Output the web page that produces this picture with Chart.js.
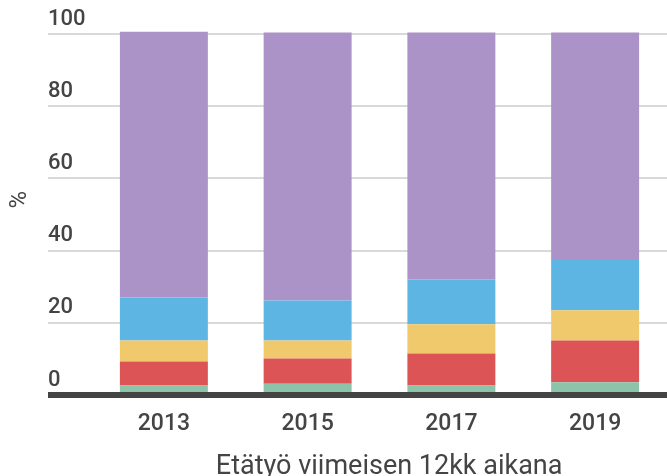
<!DOCTYPE html>
<html>
<head>
<meta charset="utf-8">
<script src="https://cdn.jsdelivr.net/npm/chart.js@4"></script>
<style>
  html, body { margin: 0; padding: 0; background: #fff; }
  #wrap { width: 667px; height: 476px; }
</style>
</head>
<body>
<div id="wrap"><canvas id="chart" width="667" height="476"></canvas></div>
<script>
// ---- data ----
const years = ['2013', '2015', '2017', '2019'];
const seriesNames = ['Päivittäin', 'Viikoittain', 'Kuukausittain', 'Harvemmin', 'Ei lainkaan'];
const greenVals  = [2.6, 3.1, 2.6, 3.5];
const redVals    = [6.7, 7.0, 8.9, 11.6];
const yellowVals = [5.8, 5.0, 8.1, 8.4];
const blueVals   = [11.9, 11.1, 12.4, 13.9];
const purpleVals = [73.6, 74.2, 68.4, 63.0];
const yTicks = [0, 20, 40, 60, 80, 100];

const colors = ['#8dc3a8', '#dc5456', '#efc96b', '#5db5e3', '#ab92c7'];
const TXT = '#444444';

const ds = [greenVals, redVals, yellowVals, blueVals, purpleVals].map((vals, i) => ({
    label: seriesNames[i],
    data: vals,
    backgroundColor: colors[i],
    borderWidth: 0,
    clip: false,
    categoryPercentage: 0.612,
    barPercentage: 1
}));

const chart = new Chart(document.getElementById('chart').getContext('2d'), {
    type: 'bar',
    data: { labels: years, datasets: ds },
    options: {
        responsive: false,
        animation: false,
        layout: { padding: { top: 34, right: 0, bottom: 0, left: 0 } },
        plugins: { legend: { display: false }, tooltip: { enabled: false } },
        scales: {
            x: {
                stacked: true,
                z: 1,
                grid: { display: false, drawTicks: false },
                border: { display: true, width: 6, color: TXT },
                ticks: { color: TXT, padding: 15, font: { family: 'Roboto', size: 23, weight: 500 } },
                title: {
                    display: true, text: '\u2002\u2009Etätyö viimeisen 12kk aikana', color: TXT,
                    font: { family: 'Roboto', size: 27, weight: 400, lineHeight: 0.68 },
                    padding: { top: 0, bottom: 0 }
                },
                afterFit: s => { s.height = 81; }
            },
            y: {
                stacked: true,
                min: 0, max: 100,
                weight: 0,
                border: { display: false },
                grid: {
                    drawTicks: true, tickLength: 44,
                    color: c => (c.tick && c.tick.value === 0) ? TXT : '#d9d9d9',
                    lineWidth: c => (c.tick && c.tick.value === 0) ? 6 : 2
                },
                afterBuildTicks: s => { s.ticks = yTicks.map(v => ({ value: v })); },
                ticks: {
                    color: TXT, crossAlign: 'far', labelOffset: -15, padding: 0,
                    font: { family: 'Roboto', size: 22, weight: 500 }
                },
                afterFit: s => { s.width = 44; }
            },
            yTitle: {
                type: 'linear',
                position: 'left',
                weight: 1,
                border: { display: false },
                grid: { display: false, drawTicks: false },
                ticks: { display: false },
                title: {
                    display: true, text: '\u2003\u2009%', color: TXT,
                    font: { family: 'Roboto', size: 24, weight: 400 },
                    padding: { top: 6, bottom: 0 }
                },
                afterFit: s => { s.width = 48; }
            }
        }
    }
});
</script>
</body>
</html>
